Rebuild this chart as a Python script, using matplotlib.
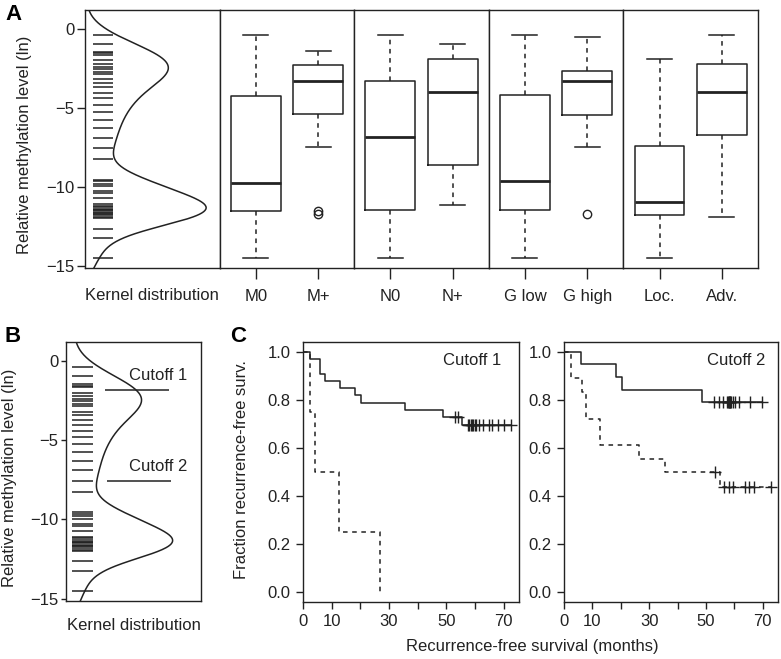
import numpy as np
import matplotlib.pyplot as plt

plt.rcParams['font.family'] = ['Liberation Sans', 'DejaVu Sans']

W, H = 781, 659
INK = '#222222'
FS = 12

rug_values = [-0.36, -0.95, -1.45, -1.55, -1.65, -2.00, -2.20, -2.40, -2.55, -2.70,
              -2.85, -3.20, -3.40, -3.70, -4.05, -4.40, -4.80, -5.25, -5.75, -6.30,
              -6.90, -7.55, -8.25, -9.55, -9.65, -9.80, -9.95, -10.30, -10.40,
              -10.70, -11.10, -11.20, -11.30, -11.40, -11.45, -11.50, -11.60, -11.65,
              -11.70, -11.80, -11.90, -12.00, -12.65, -13.25, -14.50]
kde_bw = 0.9
cutoffs = [-1.81, -7.6]
cutoff_names = ["Cutoff 1", "Cutoff 2"]

# box plot statistics
groups = ["M0", "M+", "N0", "N+", "G low", "G high", "Loc.", "Adv."]
box_whislo = [-14.54, -7.49, -14.54, -11.16, -14.54, -7.49, -14.54, -11.92]
box_q1 = [-11.54, -5.38, -11.50, -8.61, -11.50, -5.47, -11.77, -6.75]
box_med = [-9.79, -3.29, -6.82, -3.97, -9.64, -3.31, -10.97, -3.97]
box_q3 = [-4.27, -2.26, -3.29, -1.92, -4.18, -2.68, -7.45, -2.22]
box_whishi = [-0.36, -1.37, -0.36, -0.95, -0.36, -0.53, -1.88, -0.36]
box_fliers = [[], [-11.55, -11.75], [], [], [], [-11.75], [], []]

# Kaplan-Meier steps (event time, survival after event) and censor times
c1_solid_t = [2.3, 5.9, 7.6, 12.9, 18.1, 20.1, 35.5, 48.9, 55.6]
c1_solid_s = [0.970, 0.909, 0.879, 0.848, 0.818, 0.788, 0.758, 0.727, 0.694]
c1_solid_cens = [53.0, 54.0, 57.5, 58.0, 58.5, 59.0, 59.5, 60.0, 60.5, 61.5,
                 63.0, 65.0, 66.0, 68.0, 70.0, 72.5]
c1_dash_t = [2.3, 4.3, 12.6, 26.9]
c1_dash_s = [0.75, 0.50, 0.25, 0.0]
c1_dash_cens = []

c2_solid_t = [5.9, 18.4, 20.3, 48.7]
c2_solid_s = [0.947, 0.895, 0.842, 0.789]
c2_solid_cens = [52.9, 54.6, 56.1, 57.5, 57.8, 58.0, 58.2, 58.4, 58.6, 59.0,
                 59.6, 60.4, 61.6, 65.7, 69.6]
c2_dash_t = [2.3, 6.2, 7.9, 12.8, 26.6, 35.5, 55.1]
c2_dash_s = [0.889, 0.833, 0.722, 0.611, 0.556, 0.500, 0.4375]
c2_dash_cens = [53.1, 56.5, 58.0, 59.5, 63.8, 65.3, 66.8, 72.9]

fig = plt.figure(figsize=(W / 100, H / 100), dpi=100)


def px_axes(x0, y0, x1, y1):
    return fig.add_axes([x0 / W, 1 - y1 / H, (x1 - x0) / W, (y1 - y0) / H])


def style(ax):
    for s in ax.spines.values():
        s.set_color(INK)
        s.set_linewidth(1.0)
    ax.tick_params(colors=INK, labelsize=FS, width=1.0)


YLIM = (-15.15, 1.2)
ygrid = np.linspace(YLIM[0], YLIM[1], 400)
rug = np.array(rug_values)
dens = np.exp(-0.5 * ((ygrid[:, None] - rug[None, :]) / kde_bw) ** 2).sum(axis=1)
dens = dens / dens.max()


def kernel_panel(ax, rug_x, base, scale, tick_len):
    style(ax)
    ax.hlines(rug, rug_x[0], rug_x[1], color=INK, lw=1.1)
    ax.plot(base + scale * dens, ygrid, color=INK, lw=1.1)
    ax.set_xlim(0, 1)
    ax.set_ylim(*YLIM)
    ax.set_xticks([])
    ax.set_yticks([0, -5, -10, -15])
    ax.tick_params(axis='y', length=tick_len, pad=2)


# ---- panel A ----
xs = [85 + i * 134.6 for i in range(6)]
axk = px_axes(xs[0], 10, xs[1], 268)
kernel_panel(axk, (0.06, 0.21), 0.01, 0.89, 5.5)
fig.text(25 / W, 1 - 145 / H, "Relative methylation level (ln)", rotation=90,
         ha='center', va='center', fontsize=FS, color=INK)
fig.text((xs[0] + xs[1]) / 2 / W, 1 - 296 / H, "Kernel distribution",
         ha='center', va='center', fontsize=FS, color=INK)

for k in range(4):
    ax = px_axes(xs[k + 1], 10, xs[k + 2], 268)
    style(ax)
    stats = []
    for g in (2 * k, 2 * k + 1):
        stats.append(dict(med=box_med[g], q1=box_q1[g], q3=box_q3[g],
                          whislo=box_whislo[g], whishi=box_whishi[g],
                          fliers=box_fliers[g], label=groups[g]))
    ax.bxp(stats, positions=[1, 2], widths=0.8, capwidths=0.4,
           boxprops=dict(color=INK, lw=1.1),
           whiskerprops=dict(color=INK, lw=1.1, linestyle=(0, (3, 3))),
           capprops=dict(color=INK, lw=1.1),
           medianprops=dict(color=INK, lw=2.0),
           flierprops=dict(marker='o', mfc='none', mec=INK, ms=6, mew=1.0))
    ax.set_xlim(0.42, 2.58)
    ax.set_ylim(*YLIM)
    ax.set_yticks([])
    ax.tick_params(axis='x', length=8, pad=7)

# ---- panel B ----
axb = px_axes(66, 342, 201, 601)
kernel_panel(axb, (0.045, 0.20), 0.06, 0.73, 3.5)
for cv, name, (x0, x1) in zip(cutoffs, cutoff_names, [(0.29, 0.76), (0.30, 0.78)]):
    axb.hlines(cv, x0, x1, color=INK, lw=1.1)
    axb.text(0.68, cv + 0.45, name, ha='center', va='bottom', fontsize=FS, color=INK)
fig.text(10 / W, 1 - 478 / H, "Relative methylation level (ln)", rotation=90,
         ha='center', va='center', fontsize=FS, color=INK)
fig.text(134 / W, 1 - 625 / H, "Kernel distribution",
         ha='center', va='center', fontsize=FS, color=INK)


# ---- panel C ----
def km(ax, t, s, cens, ls):
    tt = [0] + list(t)
    ss = [1.0] + list(s)
    end = max([t[-1]] + list(cens))
    if s[-1] > 0:
        tt.append(end)
        ss.append(s[-1])
    ax.step(tt, ss, where='post', color=INK, lw=1.1, linestyle=ls)
    if cens:
        idx = np.searchsorted(np.array(t), np.array(cens), side='right')
        lev = np.array([1.0] + list(s))[idx]
        ax.plot(cens, lev, ls='none', marker='+', ms=9, mew=1.0, color=INK)


dash = (0, (3, 3))
panels = [
    (303, 519, "Cutoff 1", 0.92, (c1_solid_t, c1_solid_s, c1_solid_cens),
     (c1_dash_t, c1_dash_s, c1_dash_cens)),
    (564, 778, "Cutoff 2", 0.94, (c2_solid_t, c2_solid_s, c2_solid_cens),
     (c2_dash_t, c2_dash_s, c2_dash_cens)),
]
for x0, x1, name, tx, solid, dashed in panels:
    ax = px_axes(x0, 342, x1, 602)
    style(ax)
    km(ax, *dashed, dash)
    km(ax, *solid, '-')
    ax.set_xlim(0, 75.4)
    ax.set_ylim(-0.04, 1.04)
    ax.set_xticks(range(0, 80, 10))
    ax.set_xticklabels(['0', '10', '', '30', '', '50', '', '70'])
    ax.set_yticks(np.arange(0, 1.01, 0.2))
    ax.set_yticklabels(['0.0', '0.2', '0.4', '0.6', '0.8', '1.0'])
    ax.tick_params(length=5, pad=4)
    ax.text(tx, 0.93, name, transform=ax.transAxes, ha='right', va='center',
            fontsize=FS, color=INK)

fig.text(242 / W, 1 - 470 / H, "Fraction recurrence-free surv.", rotation=90,
         ha='center', va='center', fontsize=FS, color=INK)
fig.text(532 / W, 1 - 647 / H, "Recurrence-free survival (months)",
         ha='center', va='center', fontsize=FS, color=INK)

# panel letters
for lbl, x, y in [("A", 13, 14), ("B", 13, 337), ("C", 238, 337)]:
    fig.text(x / W, 1 - y / H, lbl, ha='center', va='center', fontsize=16,
             fontweight='bold', color='black')

fig.savefig("out.png", dpi=100)
